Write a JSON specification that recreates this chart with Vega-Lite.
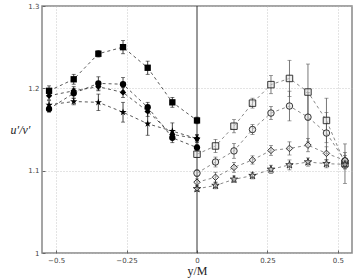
{
  "$schema": "https://vega.github.io/schema/vega-lite/v6.json",
  "width": 310,
  "height": 247,
  "autosize": "none",
  "padding": {"left": 42, "top": 6, "right": 2, "bottom": 25},
  "background": "white",
  "config": {
    "view": {"stroke": "#888", "strokeWidth": 1.5},
    "axis": {
      "domain": false,
      "grid": true,
      "gridColor": "#bbb",
      "gridDash": [1, 2],
      "gridWidth": 0.8,
      "tickColor": "#666",
      "tickSize": -3,
      "labelPadding": 6,
      "labelFontSize": 7,
      "labelColor": "#444",
      "labelFont": "DejaVu Sans"
    }
  },
  "data": {
    "values": [
      {"s": "Ls", "side": "L", "m": "square", "x": -0.525, "y": 1.197, "e": 0.006},
      {"s": "Ls", "side": "L", "m": "square", "x": -0.4375, "y": 1.211, "e": 0.006},
      {"s": "Ls", "side": "L", "m": "square", "x": -0.35, "y": 1.242, "e": 0.004},
      {"s": "Ls", "side": "L", "m": "square", "x": -0.2625, "y": 1.25, "e": 0.008},
      {"s": "Ls", "side": "L", "m": "square", "x": -0.175, "y": 1.225, "e": 0.008},
      {"s": "Ls", "side": "L", "m": "square", "x": -0.0875, "y": 1.183, "e": 0.006},
      {"s": "Ls", "side": "L", "m": "square", "x": 0, "y": 1.161, "e": 0.004},
      {"s": "Lc", "side": "L", "m": "circle", "x": -0.525, "y": 1.175, "e": 0.004},
      {"s": "Lc", "side": "L", "m": "circle", "x": -0.4375, "y": 1.194, "e": 0.006},
      {"s": "Lc", "side": "L", "m": "circle", "x": -0.35, "y": 1.206, "e": 0.008},
      {"s": "Lc", "side": "L", "m": "circle", "x": -0.2625, "y": 1.205, "e": 0.008},
      {"s": "Lc", "side": "L", "m": "circle", "x": -0.175, "y": 1.177, "e": 0.006},
      {"s": "Lc", "side": "L", "m": "circle", "x": -0.0875, "y": 1.14, "e": 0.006},
      {"s": "Lc", "side": "L", "m": "circle", "x": 0, "y": 1.128, "e": 0.004},
      {"s": "Ld", "side": "L", "m": "diamond", "x": -0.525, "y": 1.191, "e": 0.005},
      {"s": "Ld", "side": "L", "m": "diamond", "x": -0.4375, "y": 1.197, "e": 0.005},
      {"s": "Ld", "side": "L", "m": "diamond", "x": -0.35, "y": 1.202, "e": 0.005},
      {"s": "Ld", "side": "L", "m": "diamond", "x": -0.2625, "y": 1.195, "e": 0.006},
      {"s": "Ld", "side": "L", "m": "diamond", "x": -0.175, "y": 1.172, "e": 0.006},
      {"s": "Ld", "side": "L", "m": "diamond", "x": -0.0875, "y": 1.144, "e": 0.005},
      {"s": "Ld", "side": "L", "m": "diamond", "x": 0, "y": 1.139, "e": 0.004},
      {"s": "Lt", "side": "L", "m": "star", "x": -0.525, "y": 1.18, "e": 0.005},
      {"s": "Lt", "side": "L", "m": "star", "x": -0.4375, "y": 1.184, "e": 0.004},
      {"s": "Lt", "side": "L", "m": "star", "x": -0.35, "y": 1.183, "e": 0.01},
      {"s": "Lt", "side": "L", "m": "star", "x": -0.2625, "y": 1.171, "e": 0.012},
      {"s": "Lt", "side": "L", "m": "star", "x": -0.175, "y": 1.157, "e": 0.014},
      {"s": "Lt", "side": "L", "m": "star", "x": -0.0875, "y": 1.148, "e": 0.01},
      {"s": "Lt", "side": "L", "m": "star", "x": 0, "y": 1.139, "e": 0.005},
      {"s": "Rs", "side": "R", "m": "square", "x": 0, "y": 1.12, "e": 0.004},
      {"s": "Rs", "side": "R", "m": "square", "x": 0.065625, "y": 1.13, "e": 0.008},
      {"s": "Rs", "side": "R", "m": "square", "x": 0.13125, "y": 1.154, "e": 0.008},
      {"s": "Rs", "side": "R", "m": "square", "x": 0.196875, "y": 1.182, "e": 0.006},
      {"s": "Rs", "side": "R", "m": "square", "x": 0.2625, "y": 1.2045, "e": 0.011},
      {"s": "Rs", "side": "R", "m": "square", "x": 0.328125, "y": 1.212, "e": 0.022},
      {"s": "Rs", "side": "R", "m": "square", "x": 0.39375, "y": 1.1955, "e": 0.034},
      {"s": "Rs", "side": "R", "m": "square", "x": 0.459375, "y": 1.161, "e": 0.027},
      {"s": "Rs", "side": "R", "m": "square", "x": 0.525, "y": 1.1085, "e": 0.024},
      {"s": "Rc", "side": "R", "m": "circle", "x": 0, "y": 1.097, "e": 0.004},
      {"s": "Rc", "side": "R", "m": "circle", "x": 0.065625, "y": 1.1105, "e": 0.006},
      {"s": "Rc", "side": "R", "m": "circle", "x": 0.13125, "y": 1.124, "e": 0.009},
      {"s": "Rc", "side": "R", "m": "circle", "x": 0.196875, "y": 1.15, "e": 0.006},
      {"s": "Rc", "side": "R", "m": "circle", "x": 0.2625, "y": 1.17, "e": 0.008},
      {"s": "Rc", "side": "R", "m": "circle", "x": 0.328125, "y": 1.1785, "e": 0.018},
      {"s": "Rc", "side": "R", "m": "circle", "x": 0.39375, "y": 1.165, "e": 0.03},
      {"s": "Rc", "side": "R", "m": "circle", "x": 0.459375, "y": 1.1457, "e": 0.025},
      {"s": "Rc", "side": "R", "m": "circle", "x": 0.525, "y": 1.112, "e": 0.01},
      {"s": "Rd", "side": "R", "m": "diamond", "x": 0, "y": 1.086, "e": 0.004},
      {"s": "Rd", "side": "R", "m": "diamond", "x": 0.065625, "y": 1.092, "e": 0.006},
      {"s": "Rd", "side": "R", "m": "diamond", "x": 0.13125, "y": 1.104, "e": 0.006},
      {"s": "Rd", "side": "R", "m": "diamond", "x": 0.196875, "y": 1.113, "e": 0.005},
      {"s": "Rd", "side": "R", "m": "diamond", "x": 0.2625, "y": 1.1246, "e": 0.006},
      {"s": "Rd", "side": "R", "m": "diamond", "x": 0.328125, "y": 1.127, "e": 0.008},
      {"s": "Rd", "side": "R", "m": "diamond", "x": 0.39375, "y": 1.131, "e": 0.008},
      {"s": "Rd", "side": "R", "m": "diamond", "x": 0.459375, "y": 1.121, "e": 0.008},
      {"s": "Rd", "side": "R", "m": "diamond", "x": 0.525, "y": 1.1125, "e": 0.006},
      {"s": "Rt", "side": "R", "m": "star", "x": 0, "y": 1.078, "e": 0.003},
      {"s": "Rt", "side": "R", "m": "star", "x": 0.065625, "y": 1.082, "e": 0.004},
      {"s": "Rt", "side": "R", "m": "star", "x": 0.13125, "y": 1.0895, "e": 0.004},
      {"s": "Rt", "side": "R", "m": "star", "x": 0.196875, "y": 1.094, "e": 0.004},
      {"s": "Rt", "side": "R", "m": "star", "x": 0.2625, "y": 1.1016, "e": 0.005},
      {"s": "Rt", "side": "R", "m": "star", "x": 0.328125, "y": 1.107, "e": 0.006},
      {"s": "Rt", "side": "R", "m": "star", "x": 0.39375, "y": 1.1105, "e": 0.005},
      {"s": "Rt", "side": "R", "m": "star", "x": 0.459375, "y": 1.1085, "e": 0.005},
      {"s": "Rt", "side": "R", "m": "star", "x": 0.525, "y": 1.1077, "e": 0.005}
    ]
  },
  "encoding": {
    "x": {
      "field": "x", "type": "quantitative",
      "scale": {"domain": [-0.55, 0.55], "nice": false, "zero": false},
      "axis": {
        "values": [-0.5, -0.25, 0, 0.25, 0.5],
        "format": ".2~f",
        "gridColor": {"expr": "datum.value === 0 ? 'transparent' : '#bbb'"},
        "title": "y/M",
        "titleFont": "Liberation Serif",
        "titleFontWeight": "normal",
        "titleFontSize": 12,
        "titleColor": "#222",
        "titlePadding": 2
      }
    },
    "y": {
      "field": "y", "type": "quantitative",
      "scale": {"domain": [1.0, 1.3], "nice": false, "zero": false},
      "axis": {
        "values": [1, 1.1, 1.2, 1.3],
        "format": "~g",
        "title": "u′/v′",
        "titleAngle": 0,
        "titleFont": "Liberation Serif",
        "titleFontStyle": "italic",
        "titleFontWeight": "normal",
        "titleFontSize": 12,
        "titleColor": "#222",
        "titleX": -22,
        "titleY": 123,
        "titleAlign": "center",
        "titleBaseline": "middle"
      }
    }
  },
  "layer": [
    {
      "data": {"values": [{"x0": 0}]},
      "mark": {"type": "rule", "color": "#333", "strokeWidth": 1},
      "encoding": {"x": {"field": "x0", "type": "quantitative"}, "y": null}
    },
    {
      "mark": {"type": "errorbar", "ticks": {"size": 4}, "thickness": 0.8},
      "encoding": {
        "yError": {"field": "e"},
        "detail": {"field": "s"},
        "color": {"field": "side", "type": "nominal", "scale": {"domain": ["L", "R"], "range": ["#111", "#555"]}, "legend": null}
      }
    },
    {
      "mark": {"type": "line", "strokeDash": [3, 3], "strokeWidth": 0.7},
      "encoding": {
        "detail": {"field": "s"},
        "color": {"field": "side", "type": "nominal", "scale": {"domain": ["L", "R"], "range": ["#222", "#444"]}, "legend": null}
      }
    },
    {
      "transform": [{"filter": "datum.side === 'L'"}],
      "mark": {"type": "point", "filled": true, "color": "black", "opacity": 1, "size": 40},
      "encoding": {
        "shape": {"field": "m", "type": "nominal", "scale": {"domain": ["square", "circle", "diamond", "star"], "range": ["square", "circle", "diamond", "M0,-1.2L0.27,-0.37L1.14,-0.37L0.44,0.14L0.71,0.97L0,0.46L-0.71,0.97L-0.44,0.14L-1.14,-0.37L-0.27,-0.37Z"]}, "legend": null}
      }
    },
    {
      "transform": [{"filter": "datum.side === 'R'"}],
      "mark": {"type": "point", "filled": false, "stroke": "#222", "strokeWidth": 0.9, "opacity": 1, "size": 42, "fill": "#ddd", "fillOpacity": 0.5},
      "encoding": {
        "shape": {"field": "m", "type": "nominal", "scale": {"domain": ["square", "circle", "diamond", "star"], "range": ["square", "circle", "diamond", "M0,-1.2L0.27,-0.37L1.14,-0.37L0.44,0.14L0.71,0.97L0,0.46L-0.71,0.97L-0.44,0.14L-1.14,-0.37L-0.27,-0.37Z"]}, "legend": null}
      }
    }
  ]
}
